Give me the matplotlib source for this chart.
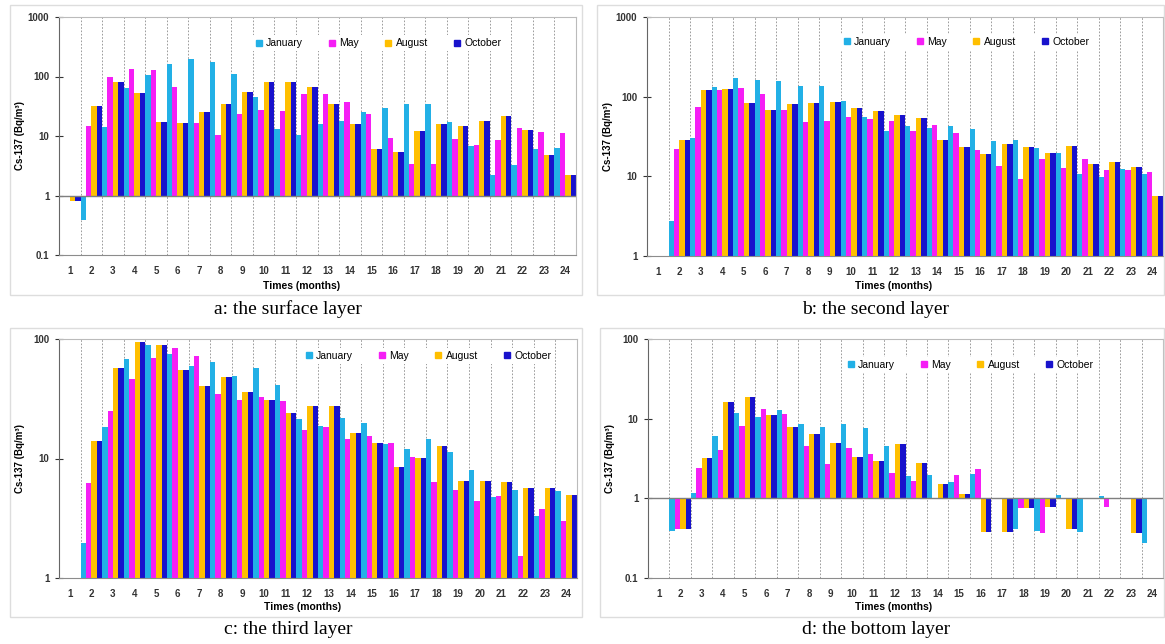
import numpy as np
import matplotlib
matplotlib.use("Agg")
import matplotlib.pyplot as plt
from matplotlib.patches import Rectangle
from matplotlib.lines import Line2D

nan = np.nan
months = list(range(1, 25))
series_names = ["January", "May", "August", "October"]
colors = ["#22b0e6", "#f51ef5", "#ffbf00", "#1812cc"]

# a: the surface layer
jan_a = [nan, 0.39, 14, 63, 108, 161, 200, 172, 111, 46, 13.3, 10.5, 15.7, 17.9, 25, 30, 34, 34, 17.2, 6.7, 2.2, 3.3, 6.1, 6.3]
may_a = [nan, 14.7, 98, 134, 128, 67, 16.7, 10.4, 23, 27, 26, 51, 51, 36.7, 23.7, 9.3, 3.4, 3.4, 8.8, 7.0, 8.5, 13.4, 11.5, 11.1]
aug_a = [0.8, 32, 82, 52, 17, 16.7, 25, 34, 55, 82, 82, 66, 34, 15.9, 6.0, 5.4, 12.3, 15.7, 14.5, 18, 21.9, 12.6, 4.8, 2.25]
oct_a = [0.8, 32, 82, 52, 17, 16.7, 25, 34, 55, 82, 82, 66, 34, 15.9, 6.0, 5.4, 12.3, 15.7, 14.5, 18, 21.9, 12.6, 4.8, 2.25]

# b: the second layer
jan_b = [nan, 2.78, 30.6, 133, 170, 163, 159, 137, 135, 89, 55.6, 37, 42.4, 40.8, 43, 39, 27.7, 28.6, 22.5, 19.6, 10.8, 9.9, 12.4, 10.8]
may_b = [nan, 22, 75, 120, 128, 107, 69, 48, 50, 55, 53, 49.5, 37.4, 44.5, 35.3, 21.2, 13.5, 9.2, 16.5, 12.7, 16.3, 12, 12.1, 11.2]
aug_b = [nan, 28.9, 122, 124, 83, 69, 80, 84, 86, 73, 66, 59.4, 54, 28.3, 23.4, 19, 25.5, 23.4, 19.6, 24.3, 14.4, 15, 13.1, 5.6]
oct_b = [nan, 28.9, 122, 125, 83, 69, 80, 84, 86, 73, 66, 59.4, 54, 28.3, 23.4, 19, 25.5, 23.4, 19.6, 24.3, 14.4, 15, 13.1, 5.6]

# c: the third layer
jan_c = [nan, 1.96, 18.2, 67.6, 88.5, 74.4, 59, 64.6, 49.3, 56.8, 41.2, 21.4, 18.6, 22, 19.7, 13.2, 11.9, 14.6, 11.4, 8.0, 4.8, 5.45, 3.3, 5.3]
may_c = [nan, 6.2, 25.1, 46.6, 68.9, 84.6, 72, 34.9, 30.9, 32.7, 30.1, 17.2, 18.3, 14.5, 15.5, 13.4, 10.2, 6.3, 5.5, 4.4, 4.9, 1.54, 3.8, 3.0]
aug_c = [nan, 14.1, 57.2, 93.8, 89.7, 55, 40.2, 48.4, 36, 30.9, 24, 27.5, 27.5, 16.3, 13.6, 8.5, 10.1, 12.7, 6.5, 6.5, 6.4, 5.7, 5.65, 4.95]
oct_c = [nan, 14.1, 57.2, 93.8, 89.7, 55, 40.2, 48.4, 36, 30.9, 24, 27.5, 27.5, 16.3, 13.6, 8.5, 10.1, 12.7, 6.5, 6.5, 6.4, 5.7, 5.65, 4.95]

# d: the bottom layer
jan_d = [nan, 0.39, 1.18, 6.06, 11.7, 10.5, 12.7, 8.5, 7.8, 8.65, 7.6, 4.5, 1.93, 1.98, 1.59, 2.0, nan, 0.41, 0.39, 1.1, 0.38, 1.07, nan, 0.275]
may_d = [nan, 0.41, 2.43, 4.0, 8.2, 13.4, 11.4, 4.6, 2.7, 4.3, 3.6, 2.08, 1.65, nan, 1.94, 2.33, nan, 0.76, 0.37, nan, nan, 0.77, nan, nan]
aug_d = [nan, 0.41, 3.18, 16.2, 18.7, 11.2, 7.9, 6.4, 4.9, 3.3, 2.97, 4.86, 2.78, 1.5, 1.13, 0.38, 0.38, 0.76, 0.78, 0.41, nan, nan, 0.37, nan]
oct_d = [nan, 0.41, 3.18, 16.2, 18.7, 11.2, 7.9, 6.4, 4.9, 3.3, 2.97, 4.86, 2.78, 1.5, 1.13, 0.38, 0.38, 0.76, 0.78, 0.41, nan, nan, 0.37, nan]

captions = ["a: the surface layer", "b: the second layer", "c: the third layer", "d: the bottom layer"]

W, H = 1165, 644
fig = plt.figure(figsize=(W / 100, H / 100), dpi=100)
plt.rcParams['font.family'] = ['Liberation Sans', 'DejaVu Sans']


def px_axes(l, t, r, b):
    return fig.add_axes([l / W, 1 - b / H, (r - l) / W, (b - t) / H])


def draw_panel(ax, data, ylims, yticks, ylabels, leg_xy, baseline, xlab_xy):
    x = np.array(months, dtype=float)
    offsets = [-0.375, -0.125, 0.125, 0.375]
    for vals, off, col in zip(data, offsets, colors):
        v = np.array(vals, dtype=float)
        ax.bar(x + off, v - 1, bottom=1, width=0.25, color=col, zorder=2)
    ax.set_yscale('log')
    ax.set_ylim(*ylims)
    ax.set_xlim(0.5, 24.5)
    # dashed separators between months
    ax.vlines(np.arange(1.5, 24.5, 1), ylims[0], ylims[1], colors='#8c8c8c',
              linestyles=(0, (2, 2)), linewidth=0.6, zorder=0)
    if baseline:
        ax.axhline(1, color='#7f7f7f', linewidth=1.0, zorder=3)
    ax.set_yticks(yticks)
    ax.set_yticklabels(ylabels)
    ax.yaxis.set_minor_locator(matplotlib.ticker.NullLocator())
    ax.set_xticks(months)
    ax.set_xticklabels([str(m) for m in months])
    ax.tick_params(axis='x', length=0, pad=8, labelsize=7, colors='#333333')
    ax.tick_params(axis='y', direction='inout', length=6, width=0.8, pad=4,
                   labelsize=7, colors='#333333')
    for lab in ax.get_xticklabels() + ax.get_yticklabels():
        lab.set_fontweight('bold')
    ax.spines['left'].set_color('#666666')
    ax.spines['bottom'].set_color('#8c8c8c')
    ax.spines['top'].set_color('#bbbbbb')
    ax.spines['right'].set_color('#bbbbbb')
    ax.set_ylabel('Cs-137 (Bq/m³)', fontsize=7, fontweight='bold')
    ax.yaxis.set_label_coords(-0.065, 0.5)
    ax.set_xlabel('Times (months)', fontsize=7.5, fontweight='bold')
    ax.xaxis.set_label_coords(*xlab_xy)
    handles = [Line2D([], [], marker='s', linestyle='none', markersize=5,
                      markerfacecolor=c, markeredgecolor=c) for c in colors]
    leg = ax.legend(handles, series_names, ncol=4, loc='center',
                    bbox_to_anchor=leg_xy, fontsize=7.5, frameon=True,
                    facecolor='white', edgecolor='none', framealpha=1,
                    columnspacing=2.4, handletextpad=0.3, handlelength=0.8,
                    borderpad=0.3)
    leg.set_zorder(5)


ax_a = px_axes(59, 17, 576, 255)
draw_panel(ax_a, [jan_a, may_a, aug_a, oct_a], (0.1, 1000),
           [0.1, 1, 10, 100, 1000], ['0.1', '1', '10', '100', '1000'],
           (0.617, 0.89), True, (0.47, -0.109))

ax_b = px_axes(647, 17, 1163, 256)
draw_panel(ax_b, [jan_b, may_b, aug_b, oct_b], (1, 1000),
           [1, 10, 100, 1000], ['1', '10', '100', '1000'],
           (0.618, 0.895), False, (0.477, -0.105))

ax_c = px_axes(59, 339, 577, 578)
draw_panel(ax_c, [jan_c, may_c, aug_c, oct_c], (1, 100),
           [1, 10, 100], ['1', '10', '100'],
           (0.712, 0.929), False, (0.471, -0.10))

ax_d = px_axes(648, 339, 1163, 578)
draw_panel(ax_d, [jan_d, may_d, aug_d, oct_d], (0.1, 100),
           [0.1, 1, 10, 100], ['0.1', '1', '10', '100'],
           (0.625, 0.891), True, (0.476, -0.10))

# light frames around each chart area
frames = [(10, 5, 582, 295), (597, 5, 1164, 295), (10, 328, 582, 617), (600, 328, 1164, 617)]
for (l, t, r, b) in frames:
    fig.patches.append(Rectangle((l / W, 1 - b / H), (r - l) / W, (b - t) / H,
                                 transform=fig.transFigure, fill=False,
                                 edgecolor='#dddddd', linewidth=1.0, zorder=0))

cap_pos = [(288, 309), (876, 309), (288, 630), (876, 630)]
for txt, (cx, cy) in zip(captions, cap_pos):
    fig.text(cx / W, 1 - cy / H, txt, ha='center', va='center', fontsize=14,
             family=['Liberation Serif', 'DejaVu Serif'])

fig.savefig('out.png', dpi=100)
